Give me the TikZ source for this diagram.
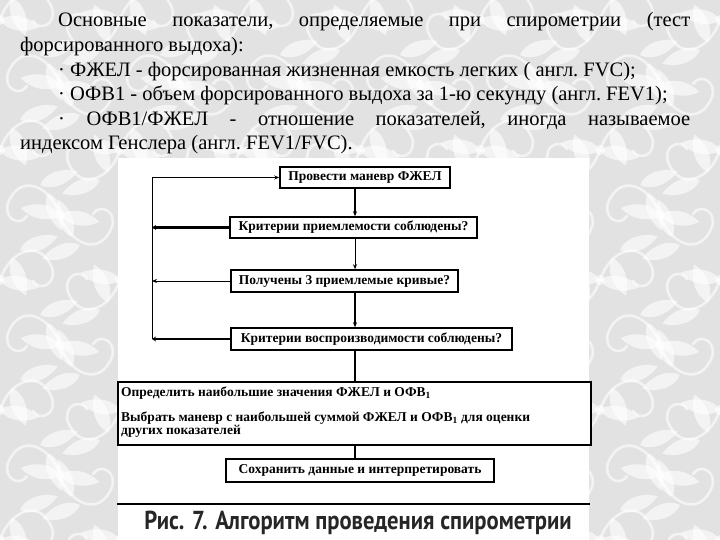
\documentclass[tikz,border=0pt]{standalone}
\usepackage{fontspec}
\setmainfont{Liberation Serif}
\newfontfamily\capfont{PT Sans}
\usetikzlibrary{arrows.meta,calc}
\definecolor{bggray}{HTML}{E2E2E2}
\definecolor{capgray}{HTML}{262626}
\tikzset{
  txtline/.style={anchor=base west,inner sep=0pt,font=\fontsize{20.5}{24}\selectfont},
  boxfont/.style={font=\fontsize{13.5}{15}\selectfont\bfseries},
  flowbox/.style={draw=black,line width=1.5pt,fill=white,inner sep=0pt,boxfont,text=black},
  innertxt/.style={anchor=base west,inner sep=0pt,boxfont,text=black},
  thickcon/.style={line width=2.6pt,draw=black},
  thincon/.style={line width=1pt,draw=black},
  tip/.style={-{Stealth[length=5pt,width=4pt]}},
  leaf/.pic={\fill[white] (0,0) .. controls (9,-10) and (28,-9) .. (40,0) .. controls (28,9) and (9,10) .. (0,0);},
  damask/.pic={
    \draw[white,line width=2.6pt,line cap=round] (0,0) .. controls (10,-30) and (40,-42) .. (52,-12) .. controls (57,4) and (40,12) .. (33,1);
    \draw[white,line width=2.6pt,line cap=round] (0,0) .. controls (-10,30) and (-40,42) .. (-52,12) .. controls (-57,-4) and (-40,-12) .. (-33,-1);
    \pic[rotate=-70] at (12,-22) {leaf};
    \pic[rotate=20] at (20,-30) {leaf};
    \pic[rotate=110] at (-12,22) {leaf};
    \pic[rotate=200] at (-20,30) {leaf};
    \pic[rotate=-10] at (0,0) {leaf};
    \pic[rotate=170] at (0,0) {leaf};
    \fill[white] (0,0) circle (5);
  }
}
\begin{document}
\begin{tikzpicture}[x=1pt,y=-1pt]
\useasboundingbox (0,0) rectangle (720,540);
\fill[bggray] (0,0) rectangle (720,540);
% damask-like background ornaments
\begin{scope}[opacity=0.6]
\clip (0,0) rectangle (720,540);
\foreach \cx in {0,120,240,360,480,600,720}{
  \foreach \cy in {20,150,280,410,540}{
    \pic at (\cx,\cy) {damask};
    \pic[xscale=-1] at (\cx+60,\cy+65) {damask};
  }
}
\end{scope}
% top text
\begin{scope}[every node/.append style={execute at begin node=\frenchspacing}]
\node[txtline] (t1) at (58,27) {\makebox[632pt][s]{Основные показатели, определяемые при спирометрии (тест}};
\node[txtline] (t2) at (20,52) {форсированного выдоха):};
\node[txtline] (t3) at (58,77) {· ФЖЕЛ - форсированная жизненная емкость легких ( англ. FVC);};
\node[txtline] (t4) at (58,101) {· ОФВ1 - объем форсированного выдоха за 1-ю секунду (англ. FEV1);};
\node[txtline] (t5) at (58,126) {\makebox[632pt][s]{· ОФВ1/ФЖЕЛ - отношение показателей, иногда называемое}};
\node[txtline] (t6) at (20,150) {индексом Генслера (англ. FEV1/FVC).};
\end{scope}
% white panel
\fill[white] (118,158) rectangle (589,540);
% flowchart boxes
\node[flowbox,minimum width=170pt,minimum height=21pt] (b1) at (365,177.5) {Провести маневр ФЖЕЛ};
\node[flowbox,minimum width=247pt,minimum height=21pt] (b2) at (353.5,227.5) {Критерии приемлемости соблюдены?};
\node[flowbox,minimum width=227pt,minimum height=22pt] (b3) at (344.5,281) {Получены 3 приемлемые кривые?};
\node[flowbox,minimum width=281pt,minimum height=22pt] (b4) at (371.5,339) {Критерии воспроизводимости соблюдены?};
\node[flowbox,minimum width=473pt,minimum height=63pt,anchor=north west] (b5) at (117,381) {};
\node[innertxt] (b5a) at (121,396) {Определить наибольшие значения ФЖЕЛ и ОФВ\textsubscript{1}};
\node[innertxt] (b5b) at (121,421) {Выбрать маневр с наибольшей суммой ФЖЕЛ и ОФВ\textsubscript{1} для оценки};
\node[innertxt] (b5c) at (121,434) {других показателей};
\node[flowbox,minimum width=268pt,minimum height=23pt] (b6) at (360,470.5) {Сохранить данные и интерпретировать};
% connector guide coordinates
\coordinate (vx) at (355,0);
\coordinate (lt) at (152,177.5);
\coordinate (l2) at (152,227.5);
\coordinate (l3) at (152,281);
\coordinate (l4) at (152,339);
% vertical connectors
\draw[thickcon,tip] (b1.south -| vx) -- (b2.north -| vx);
\draw[thincon,tip] (b2.south -| vx) -- (b3.north -| vx);
\draw[thickcon,tip] (b3.south -| vx) -- (b4.north -| vx);
\draw[thickcon] (b4.south -| vx) -- (b5.north -| vx);
\draw[thickcon] (b5.south -| vx) -- (b6.north -| vx);
% feedback loop
\draw[thincon] (l4) -- (lt);
\draw[thincon,tip] (lt) -- (b1.west);
\draw[thickcon,-{Stealth[length=4pt,width=5pt]}] (b2.west) -- (l2);
\draw[thincon,tip] (b3.west) -- (l3);
\draw[thickcon,-{Stealth[length=4pt,width=5pt]}] (b4.west) -- (l4);
% rule and caption
\coordinate (rl) at (117,504);
\coordinate (rr) at (590,504);
\draw[line width=1.2pt] (rl) -- (rr);
\node[font=\capfont\bfseries\fontsize{26}{28}\selectfont,text=capgray,inner sep=0pt] (cap) at (358,523)
  {\scalebox{0.87}[1]{Рис. 7. Алгоритм проведения спирометрии}};
\end{tikzpicture}
\end{document}
